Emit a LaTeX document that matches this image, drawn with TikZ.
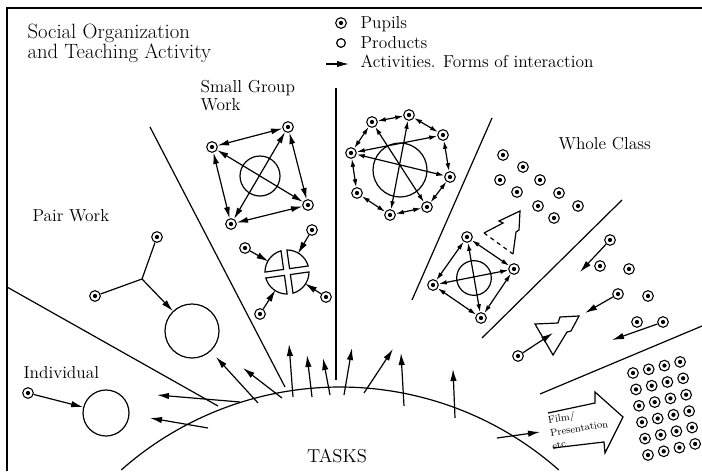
\documentclass[tikz,border=0pt]{standalone}
\usepackage{amsmath}
\usetikzlibrary{arrows.meta}

\begin{document}
\begin{tikzpicture}[x=0.75pt, y=-0.75pt, line width=0.9pt,
	pupil/.style={circle, draw, line width=0.8pt, inner sep=0pt, minimum size=8pt,
		path picture={\fill (path picture bounding box.center) circle (1.6pt);}},
	product/.style={circle, draw, inner sep=0pt, minimum size=#1},
	act/.style={-{Latex[length=9pt, width=4.8pt]}},
	dact/.style={{Latex[length=8.5pt, width=4.5pt]}-{Latex[length=8.5pt, width=4.5pt]}},
	sdact/.style={{Latex[length=6pt, width=3.5pt]}-{Latex[length=6pt, width=3.5pt]}},
	lbl/.style={inner sep=0pt, font=\fontsize{13}{13.5}\selectfont, align=left}]
	\useasboundingbox (0,0) rectangle (702,471);
	\draw[line width=1pt] (7,471) -- (7,8) -- (702,8);

	% title and legend
	\node[lbl, anchor=north west, font=\fontsize{15.5}{15}\selectfont] (title) at (27,23) {Social Organization\\and Teaching Activity};
	\node[pupil] (lgp) at (341,23) {};
	\node[product=6.5pt] (lgo) at (341,43) {};
	\coordinate (lga) at (326,64);
	\coordinate (lgb) at (349,64);
	\draw[act] (lga) -- (lgb);
	\node[lbl, anchor=base west] (lgpt) at (360,28) {Pupils};
	\node[lbl, anchor=base west] (lgot) at (360,48) {Products};
	\node[lbl, anchor=base west] (lgat) at (360,67) {Activities. Forms of interaction};

	% sectors and tasks
	\draw (7,287) -- (218,406);
	\draw (150,127) -- (285,387);
	\draw (336,88) -- (336,380);
	\draw (492,118) -- (412,300);
	\draw (622,200) -- (482,338);
	\draw (702,326) -- (540,394);
	\draw plot[domain=-131.5:-48.5, samples=60, smooth] ({340+330*cos(\x)}, {717+330*sin(\x)});
	\node[inner sep=0pt, font=\fontsize{14}{14}\selectfont, anchor=base] (tasks) at (337,462) {TASKS};
	\foreach \n/\xa/\ya/\xb/\yb in {1/258/403/216/357, 2/282/398/243/368, 3/293/397/289/344,
		4/312/397/307/355, 5/330/395/323/358, 6/344/395/352/348, 7/364/393/393/349,
		8/404/406/401/353, 9/455/418/453/369, 10/497/438/540/432, 11/240/402/157/395, 12/208/428/150/418}{
		\coordinate (ts\n) at (\xa,\ya);
		\coordinate (te\n) at (\xb,\yb);
		\draw[act] (ts\n) -- (te\n);
	}

	% individual
	\node[lbl, anchor=base west] (indt) at (23,378) {Individual};
	\node[pupil] (ind) at (28,393) {};
	\node[product=34.5pt] (indc) at (106,413) {};
	\draw[act] (ind) -- (indc);

	% pair work
	\node[lbl, anchor=base west] (pairt) at (32,221) {Pair Work};
	\node[pupil] (pa1) at (157,237) {};
	\node[pupil] (pa2) at (95,296) {};
	\coordinate (paj) at (142,279);
	\node[product=40.5pt] (pac) at (192,331) {};
	\draw (pa1) -- (paj) -- (pa2);
	\draw[act] (paj) -- (pac);

	% small group work
	\node[lbl, anchor=north west] (sgt) at (200,80) {Small Group\\Work};
	\node[pupil] (sg1) at (288,127) {};
	\node[pupil] (sg2) at (212,147) {};
	\node[pupil] (sg3) at (231,224) {};
	\node[pupil] (sg4) at (308,205) {};
	\node[product=30pt] (sgc) at (260,176) {};
	\foreach \a/\b in {sg1/sg2, sg2/sg3, sg3/sg4, sg4/sg1, sg1/sg3, sg2/sg4}
		\draw[dact] (\a) -- (\b);
	\coordinate (qc) at (287,272);
	\begin{scope}[shift={(qc)}, rotate=8]
		\foreach \a in {0,90,180,270}
			\draw[rotate=\a] (3,3) -- (3,21.8) arc[start angle=82.2, end angle=7.8, radius=22] -- cycle;
	\end{scope}
	\foreach \n/\x/\y in {1/245/248, 2/312/230, 3/326/297, 4/260/314}{
		\node[pupil] (qp\n) at (\x,\y) {};
		\draw[act, shorten >=16pt] (qp\n) -- (qc);
	}

	% middle group
	\foreach \n/\x/\y in {1/409/115, 2/372/122, 3/351/153, 4/357/193, 5/390/215, 6/427/207, 7/450/177, 8/443/135}
		\node[pupil] (mg\n) at (\x,\y) {};
	\node[product=40.5pt] (mgc) at (400,170) {};
	\foreach \a/\b in {1/2, 2/3, 3/4, 4/5, 5/6, 6/7, 7/8, 8/1, 1/5, 2/6, 3/7, 3/8}
		\draw[sdact] (mg\a) -- (mg\b);

	% whole class
	\node[lbl, anchor=base west] (wct) at (558,149) {Whole Class};
	\foreach \n/\x/\y in {1/503/155, 2/523/167, 3/500/180, 4/540/180, 5/517/192, 6/559/193, 7/538/206, 8/578/206, 9/554/218}
		\node[pupil] (wc\n) at (\x,\y) {};
	\draw (513,254) -- (516,232) -- (519,230) -- (520,211) -- (499,221) -- (503,223) -- (484,233);
	\draw[dashed] (484,233) -- (513,254);
	\node[pupil] (wd1) at (467,237) {};
	\node[pupil] (wd2) at (514,269) {};
	\node[pupil] (wd3) at (481,318) {};
	\node[pupil] (wd4) at (433,285) {};
	\node[product=26pt] (wdc) at (474,278) {};
	\foreach \a/\b in {1/2, 2/3, 3/4, 4/1, 1/3, 2/4}
		\draw[sdact] (wd\a) -- (wd\b);

	\foreach \n/\x/\y in {1/610/240, 2/600/266, 3/629/269, 4/618/294, 5/648/296, 6/637/322, 7/663/322, 8/518/356}
		\node[pupil] (wr\n) at (\x,\y) {};
	\coordinate (wh1) at (580,272);
	\coordinate (wh4) at (585,313);
	\coordinate (wh7) at (612,340);
	\coordinate (wh8) at (553,333);
	\foreach \n in {1,4,7,8}
		\draw[act] (wr\n) -- (wh\n);
	\draw (535,324) -- (553,355) -- (567,332) -- (571,331) -- (579,316) -- (560,317) -- (558,323) -- cycle;

	% film / presentation
	\draw (548,413) -- (595,403) -- (595,392) -- (623,417) -- (605,453) -- (604,442) -- (553,448);
	\node[inner sep=0pt, font=\fontsize{7.5}{9.8}\selectfont, align=left, rotate=9] (film) at (579,428) {Film/\\Presentation\\etc};
	\foreach \i in {0,...,5}
		\foreach \j in {0,...,3}
			\node[pupil] (g\i\j) at ({633+3*\i+15.7*\j}, {373+16.4*\i-3.7*\j}) {};
\end{tikzpicture}
\end{document}
